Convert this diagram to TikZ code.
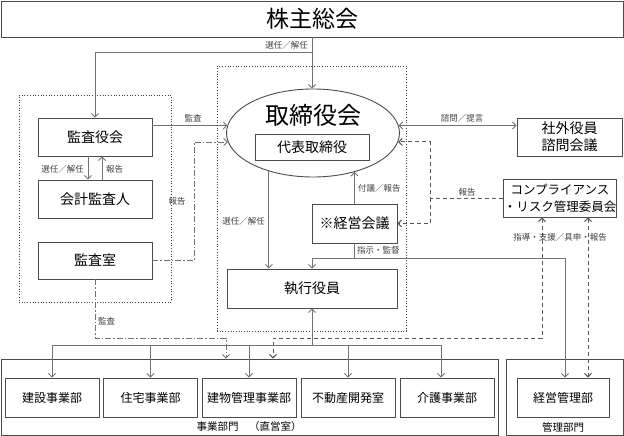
\documentclass[tikz,border=0pt]{standalone}
\usepackage{fontspec}
\setmainfont{Noto Sans CJK JP}
\usetikzlibrary{arrows.meta,shapes.geometric}

\tikzstyle{orgfig}=[x=1pt,y=-1pt,>={Straight Barb[length=3.5pt,width=7pt]}]
\tikzstyle{orgbox}=[draw=black!70,line width=0.9pt,inner sep=0pt,align=center,font=\fontsize{14}{17}\selectfont]
\tikzstyle{deptbox}=[orgbox,minimum width=94pt,minimum height=39pt,font=\fontsize{12}{14}\selectfont]
\tikzstyle{grpframe}=[draw=black!75,line width=0.7pt,dotted,inner sep=0pt]
\tikzstyle{divframe}=[draw=black!70,line width=0.9pt,inner sep=0pt]
\tikzstyle{divlbl}=[inner sep=0pt,font=\fontsize{10.5}{12}\selectfont]
\tikzstyle{conn}=[draw=black!55,line width=0.9pt]
\tikzstyle{chainconn}=[conn,dash pattern=on 6pt off 2pt on 1.5pt off 2pt]
\tikzstyle{dashconn}=[draw=black!65,line width=1pt,dash pattern=on 4pt off 3pt]
\tikzstyle{lbl}=[inner sep=1pt,text=black!75,font=\fontsize{8.5}{10}\selectfont]

\begin{document}
\begin{tikzpicture}[style=orgfig]
\useasboundingbox (0,0) rectangle (624,436);

\node[grpframe,minimum width=152pt,minimum height=207pt] (auditgrp) at (95,198.5) {};
\node[grpframe,minimum width=189pt,minimum height=265pt] (boardgrp) at (311.5,198.5) {};

\node[orgbox,minimum width=622pt,minimum height=36pt,font=\fontsize{23}{26}\selectfont] (gm) at (312,19) {株主総会};

\node[ellipse,draw=black!70,line width=0.9pt,minimum width=173pt,minimum height=88pt,inner sep=0pt] (bod) at (313,133) {};
\node[inner sep=0pt,font=\fontsize{24}{28}\selectfont] (bodname) at (313,115) {取締役会};
\node[orgbox,minimum width=114pt,minimum height=26pt] (ceo) at (312,147) {代表取締役};

\node[orgbox,minimum width=114pt,minimum height=38pt] (kansayaku) at (95,137) {監査役会};
\node[orgbox,minimum width=114pt,minimum height=38pt] (kaikei) at (95,199) {会計監査人};
\node[orgbox,minimum width=114pt,minimum height=37pt] (kansashitsu) at (95,260.5) {監査室};

\node[orgbox,minimum width=85pt,minimum height=39pt] (keiei) at (354.5,223.5) {※経営会議};
\node[orgbox,minimum width=170pt,minimum height=39pt] (shikko) at (312,288.5) {執行役員};

\node[orgbox,minimum width=105pt,minimum height=38pt] (advisory) at (569.5,137) {社外役員\\諮問会議};
\node[orgbox,minimum width=106pt,minimum height=38pt,font=\fontsize{12.5}{17}\selectfont] (compliance) at (560,198) {コンプライアンス\\・リスク管理委員会};

\node[divframe,minimum width=497pt,minimum height=76pt] (bizdiv) at (249.5,397) {};
\node[divframe,minimum width=117pt,minimum height=76pt] (mgmtdiv) at (564.5,397) {};
\node[divlbl] (bizname) at (249,427) {事業部門　（直営室）};
\node[divlbl] (mgmtname) at (563,427) {管理部門};

\node[deptbox] (d1) at (52,397.5) {建設事業部};
\node[deptbox] (d2) at (150.5,397.5) {住宅事業部};
\node[deptbox] (d3) at (249,397.5) {建物管理事業部};
\node[deptbox] (d4) at (348,397.5) {不動産開発室};
\node[deptbox] (d5) at (447,397.5) {介護事業部};
\node[deptbox,minimum width=92pt] (kanri) at (563,397.5) {経営管理部};

\coordinate (electsplit) at (312,52);
\draw[conn,->] (gm.south) -- (gm.south |- bod.north);
\draw[conn,->] (electsplit) -| (kansayaku.north);
\node[lbl,anchor=east] (electlbl) at (309,45) {選任／解任};

\draw[conn,->] (kansayaku.east |- bod.175) -- (bod.175);
\node[lbl] (auditlbl) at (193,118) {監査};
\draw[conn,->] ([xshift=-7pt]kansayaku.south) -- ([xshift=-7pt]kaikei.north);
\draw[conn,->] ([xshift=7pt]kaikei.north) -- ([xshift=7pt]kansayaku.south);
\node[lbl,anchor=east] (kaikeilbl) at (85,169) {選任／解任};
\node[lbl,anchor=west] (kaikeirep) at (105,169) {報告};

\coordinate (reportx) at (194,0);
\draw[chainconn,->] (kansashitsu.east) -| (reportx |- bod.186) -- (bod.186);
\node[lbl] (roomrep) at (177,201) {報告};
\coordinate (auditturn) at (226,338);
\draw[chainconn,->] (kansashitsu.south) |- (auditturn) -- (auditturn |- bizdiv.north);
\node[lbl,anchor=west] (roomaudit) at (97,321) {監査};

\draw[conn,->] (bod.221) -- (bod.221 |- shikko.north);
\node[lbl,anchor=east] (shikkolbl) at (266,221) {選任／解任};
\draw[conn,->] (keiei.north) -- (keiei.north |- bod.317);
\node[lbl,anchor=west] (keieilbl) at (357,188) {付議／報告};

\coordinate (ordersplit) at (354.5,258);
\draw[conn] (keiei.south) -- (ordersplit);
\draw[conn,->] (ordersplit) -| (shikko.north);
\draw[conn,->] (ordersplit) -| ([xshift=2pt]kanri.north);
\node[lbl,anchor=west] (orderlbl) at (356,250) {指示・監督};

\draw[conn,<->] (bod.5) -- (bod.5 -| advisory.west);
\node[lbl] (advisorylbl) at (462,118) {諮問／提言};

\coordinate (riskx) at (430,0);
\draw[dashconn,->] (compliance.west) -| (riskx |- bod.354) -- (bod.354);
\draw[dashconn,->] (compliance.west -| riskx) |- (keiei.east);
\node[lbl] (risklbl) at (467,192) {報告};

\coordinate (guideturn) at (273,338);
\draw[dashconn,<->] ([xshift=-18pt]compliance.south) |- (guideturn) -- (guideturn |- bizdiv.north);
\draw[dashconn,<->] ([xshift=28pt]compliance.south) -- ([xshift=28pt]compliance.south |- kanri.north);
\node[lbl] (guidelbl) at (560,237) {指導・支援／具申・報告};

\coordinate (busL) at (52,345);
\coordinate (busR) at (441,345);
\draw[conn] (busL) -- (busR);
\foreach \d in {d1,d2,d3,d4}
  \draw[conn,->] (\d.north |- busL) -- (\d.north);
\draw[conn,->] (busR) -- (busR |- d5.north);
\draw[conn,->] (shikko.south |- busL) -- (shikko.south);
\end{tikzpicture}
\end{document}
